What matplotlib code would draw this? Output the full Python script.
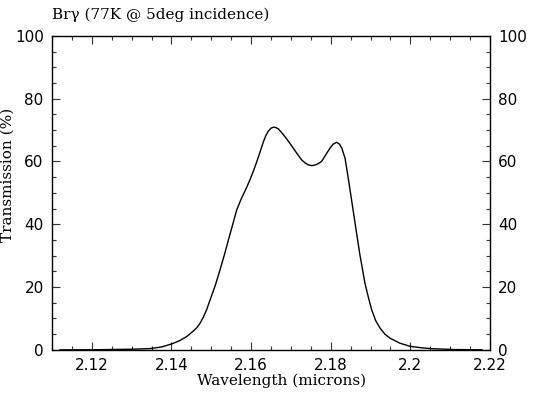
import numpy as np
import matplotlib
matplotlib.use("Agg")
import matplotlib.pyplot as plt
from matplotlib.ticker import MultipleLocator, FuncFormatter

# Transmission curve
wavelength = [2.112, 2.120, 2.1246, 2.1304, 2.1346, 2.1375, 2.1401, 2.1420,
              2.1438, 2.1455, 2.1464, 2.1472, 2.1480, 2.1489, 2.1497, 2.1510,
              2.1522, 2.1533, 2.1543, 2.1554, 2.1564, 2.1576, 2.1587, 2.1597,
              2.1606, 2.1614, 2.1623, 2.1631, 2.1637, 2.1643, 2.1650, 2.1656,
              2.1662, 2.1668, 2.1676, 2.1685, 2.1695, 2.1706, 2.1717, 2.1727,
              2.1735, 2.1742, 2.1750, 2.1756, 2.1766, 2.1777, 2.1787, 2.1798,
              2.1806, 2.1815, 2.1822, 2.1828, 2.1836, 2.1844, 2.1853, 2.1863,
              2.1873, 2.1886, 2.1895, 2.1903, 2.1913, 2.1924, 2.1936, 2.1949,
              2.1974, 2.2000, 2.2025, 2.2049, 2.2107, 2.2180]
transmission = [0.0, 0.02, 0.1, 0.2, 0.4, 0.9, 1.9, 2.9,
                4.2, 6.0, 7.1, 8.5, 10.4, 13.0, 15.9, 20.5,
                25.5, 30.3, 35.0, 40.0, 44.6, 48.3, 51.2, 54.1,
                57.0, 59.8, 63.2, 66.3, 68.2, 69.6, 70.6, 70.9,
                70.8, 70.4, 69.3, 67.9, 66.2, 64.2, 62.2, 60.5,
                59.6, 59.0, 58.7, 58.7, 59.1, 60.0, 62.0, 64.2,
                65.5, 66.1, 65.5, 64.2, 61.0, 54.7, 47.2, 38.8,
                30.5, 21.2, 16.5, 12.7, 9.3, 6.9, 5.0, 3.7,
                2.1, 1.1, 0.7, 0.4, 0.1, 0.0]

title = "Br\u03b3 (77K @ 5deg incidence)"
xlabel = "Wavelength (microns)"
ylabel = "Transmission (%)"

fig = plt.figure(figsize=(5.42, 3.98), dpi=100)
ax = fig.add_axes([0.096, 0.121, 0.808, 0.789])

ax.plot(wavelength, transmission, color="black", lw=1.0)

ax.set_xlim(2.11, 2.22)
ax.set_ylim(0, 100)

ax.xaxis.set_major_locator(MultipleLocator(0.02))
ax.xaxis.set_minor_locator(MultipleLocator(0.005))
ax.yaxis.set_major_locator(MultipleLocator(20))
ax.yaxis.set_minor_locator(MultipleLocator(5))
ax.xaxis.set_major_formatter(FuncFormatter(lambda v, p: "%g" % round(v, 3)))
ax.yaxis.set_major_formatter(FuncFormatter(lambda v, p: "%d" % v))

ax.tick_params(which="both", direction="in", top=True, right=True,
               labelright=True, color="#333333", width=0.8)
ax.tick_params(which="major", length=5.8, labelsize=11)
ax.tick_params(axis="x", which="major", pad=6)
ax.tick_params(axis="y", which="major", pad=6)
ax.tick_params(which="minor", length=2.9)
for s in ax.spines.values():
    s.set_linewidth(1.0)

lab_font = dict(family="DejaVu Serif", fontsize=11)
ax.set_title(title, loc="left", pad=12, **lab_font)
ax.set_xlabel(xlabel, **lab_font)
ax.xaxis.set_label_coords(0.523, -0.076)
ax.set_ylabel(ylabel, **lab_font)
ax.yaxis.set_label_coords(-0.085, 0.557)

fig.savefig("out.png", dpi=100)
